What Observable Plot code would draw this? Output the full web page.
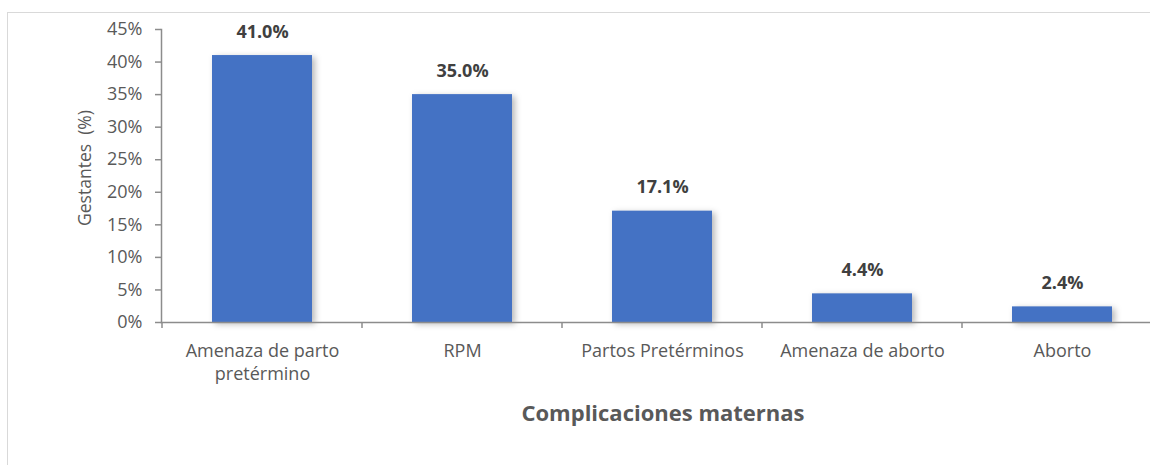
<!DOCTYPE html>
<html>
<head>
<meta charset="utf-8">
<script src="https://cdn.jsdelivr.net/npm/d3@7"></script>
<script src="https://cdn.jsdelivr.net/npm/@observablehq/plot@0.6"></script>
<style>
  html, body { margin: 0; padding: 0; background: #fff; overflow: hidden; }
  #wrap { position: relative; width: 1150px; height: 465px; }
  #frame { position: absolute; left: 7px; top: 12px; width: 1200px; height: 500px; border: 1.5px solid #d9d9d9; box-sizing: border-box; }
  #chart { position: absolute; left: 0; top: 0; }
  #chart svg { font-family: "Open Sans", Lato, sans-serif; }
  g[aria-label="bar"] rect { filter: drop-shadow(3px 2px 3px rgba(0,0,0,0.28)); }
</style>
</head>
<body>
<div id="wrap"><div id="frame"></div><div id="chart"></div></div>
<script>
const categories = ["Amenaza de parto pretérmino", "RPM", "Partos Pretérminos", "Amenaza de aborto", "Aborto"];
const tickLabels = ["Amenaza de parto\npretérmino", "RPM", "Partos Pretérminos", "Amenaza de aborto", "Aborto"];
const values = [41.0, 35.0, 17.1, 4.4, 2.4];
const valueLabels = ["41.0%", "35.0%", "17.1%", "4.4%", "2.4%"];
const yTicks = [0, 5, 10, 15, 20, 25, 30, 35, 40, 45];
const yTitle = "Gestantes  (%)";
const xTitle = "Complicaciones maternas";

const data = categories.map((c, i) => ({cat: c, value: values[i], label: valueLabels[i], tick: tickLabels[i]}));

const axisColor = "#8c8c8c";
const textColor = "#595959";

// band-boundary tick marks on the x axis
function xBoundaryTicks(index, scales) {
  const sx = scales.x;
  const step = sx.step();
  const half = (step - sx.bandwidth()) / 2;
  const g = d3.create("svg:g").attr("stroke", axisColor).attr("stroke-width", 1.5);
  const y0 = scales.y(0);
  const starts = categories.map(c => sx(c) - half);
  starts.push(sx(categories[categories.length - 1]) + sx.bandwidth() + half);
  for (const s of starts) {
    g.append("line").attr("x1", s).attr("x2", s).attr("y1", y0).attr("y2", y0 + 6);
  }
  return g.node();
}

const chart = Plot.plot({
  width: 1150,
  height: 465,
  marginLeft: 161,
  marginRight: 0,
  marginTop: 29,
  marginBottom: 143,
  style: {background: "transparent", overflow: "visible"},
  x: {domain: categories, range: [161, 1163], paddingInner: 0.5, paddingOuter: 0.25, axis: null},
  y: {domain: [0, 45], range: [322, 29], axis: null},
  marks: [
    Plot.barY(data, {x: "cat", y: "value", fill: "#4472c4"}),
    Plot.axisY({ticks: yTicks, tickSize: 6, tickPadding: 13, tickFormat: d => d + "%", label: null, stroke: axisColor, strokeWidth: 1.5, color: textColor, fontSize: 18}),
    Plot.frame({anchor: "left", stroke: axisColor, strokeWidth: 1.5}),
    Plot.frame({anchor: "bottom", stroke: axisColor, strokeWidth: 1.5}),
    xBoundaryTicks,
    Plot.text(data, {x: "cat", y: 0, text: "tick", lineAnchor: "top", dy: 18, lineHeight: 1.28, fill: textColor, fontSize: 18}),
    Plot.text(data, {x: "cat", y: "value", text: "label", lineAnchor: "bottom", dy: -18, fill: "#404040", fontSize: 18, fontWeight: "bold"}),
    Plot.text([yTitle], {frameAnchor: "left", textAnchor: "middle", dx: -76, dy: -8, rotate: -90, fill: textColor, fontSize: 17.5}),
    Plot.text([xTitle], {frameAnchor: "bottom", dx: 7, dy: 98, fill: textColor, fontSize: 22, fontWeight: "bold"})
  ]
});
document.getElementById("chart").appendChild(chart);
</script>
</body>
</html>
